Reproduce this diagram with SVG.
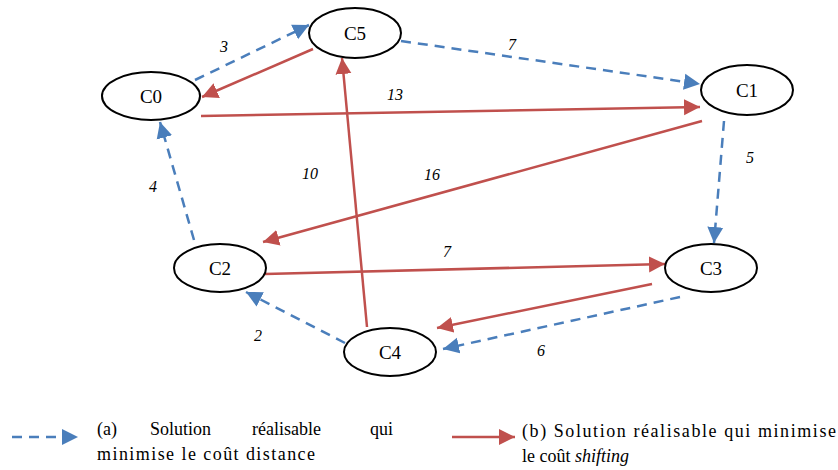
<svg xmlns="http://www.w3.org/2000/svg" width="838" height="470" viewBox="0 0 838 470" font-family="Liberation Serif, DejaVu Serif, serif">
<style>
.node ellipse{fill:#fff;stroke:#000;stroke-width:2}
.node text{font-size:19px;text-anchor:middle;fill:#000}
.blue{stroke:#4a7ebb;stroke-width:2.5;stroke-dasharray:10 7;fill:none}
.red{stroke:#c0504d;stroke-width:2.5;fill:none}
.lbl{font-size:16px;font-style:italic;fill:#000;text-anchor:middle}
.leg{font-size:18px;fill:#000}
</style>
<defs>
<marker id="ab" markerUnits="userSpaceOnUse" markerWidth="18" markerHeight="18" refX="16" refY="9" orient="auto" viewBox="0 0 18 18">
<path d="M0,1 L16,9 L0,17 z" fill="#4a7ebb"/>
</marker>
<marker id="ar" markerUnits="userSpaceOnUse" markerWidth="18" markerHeight="18" refX="16" refY="9" orient="auto" viewBox="0 0 18 18">
<path d="M0,1 L16,9 L0,17 z" fill="#c0504d"/>
</marker>
</defs>
<g id="connectors">
<line class="blue" x1="195" y1="80" x2="309" y2="25" marker-end="url(#ab)"/>
<line class="blue" x1="401" y1="41" x2="700" y2="84" marker-end="url(#ab)"/>
<line class="blue" x1="724" y1="121" x2="714" y2="243" marker-end="url(#ab)"/>
<line class="blue" x1="680" y1="297" x2="443" y2="349" marker-end="url(#ab)"/>
<line class="blue" x1="345" y1="343" x2="246" y2="292" marker-end="url(#ab)"/>
<line class="blue" x1="194" y1="240" x2="160" y2="122" marker-end="url(#ab)"/>
<line class="red" x1="313" y1="49" x2="202" y2="97" marker-end="url(#ar)"/>
<line class="red" x1="201" y1="116" x2="700" y2="107" marker-end="url(#ar)"/>
<line class="red" x1="702" y1="121" x2="263" y2="242" marker-end="url(#ar)"/>
<line class="red" x1="265" y1="274" x2="665" y2="264" marker-end="url(#ar)"/>
<line class="red" x1="652" y1="284" x2="437" y2="328" marker-end="url(#ar)"/>
<line class="red" x1="367" y1="327" x2="342" y2="58" marker-end="url(#ar)"/>
<text class="lbl" x="224" y="52">3</text>
<text class="lbl" x="512" y="50" font-style="normal">7</text>
<text class="lbl" x="750" y="163">5</text>
<text class="lbl" x="541" y="356">6</text>
<text class="lbl" x="258" y="341">2</text>
<text class="lbl" x="153" y="192">4</text>
<text class="lbl" x="395" y="100">13</text>
<text class="lbl" x="432" y="180">16</text>
<text class="lbl" x="447" y="257" font-style="normal">7</text>
<text class="lbl" x="310" y="179">10</text>
</g>
<g id="C5" class="node"><ellipse cx="355" cy="33" rx="46" ry="25"/><text x="355" y="40">C5</text></g>
<g id="C0" class="node"><ellipse cx="151" cy="96" rx="49" ry="24"/><text x="151" y="103">C0</text></g>
<g id="C1" class="node"><ellipse cx="747" cy="90" rx="46" ry="25"/><text x="747" y="97">C1</text></g>
<g id="C2" class="node"><ellipse cx="220" cy="268" rx="46" ry="24"/><text x="220" y="275">C2</text></g>
<g id="C4" class="node"><ellipse cx="390" cy="352" rx="46" ry="24"/><text x="390" y="359">C4</text></g>
<g id="C3" class="node"><ellipse cx="711" cy="268" rx="46" ry="24"/><text x="711" y="275">C3</text></g>
<g id="legend">
<line class="blue" x1="12" y1="437" x2="78" y2="437" marker-end="url(#ab)"/>
<line class="red" x1="452" y1="437" x2="515" y2="437" marker-end="url(#ar)"/>
<text class="leg" x="97" y="435">(a)</text>
<text class="leg" x="150" y="435">Solution</text>
<text class="leg" x="252" y="435">réalisable</text>
<text class="leg" x="370" y="435">qui</text>
<text class="leg" x="97" y="460" textLength="218">minimise le coût distance</text>
<text class="leg" x="522" y="437" textLength="314">(b) Solution réalisable qui minimise</text>
<text class="leg" x="522" y="462">le coût <tspan font-style="italic">shifting</tspan></text>
</g>
</svg>
